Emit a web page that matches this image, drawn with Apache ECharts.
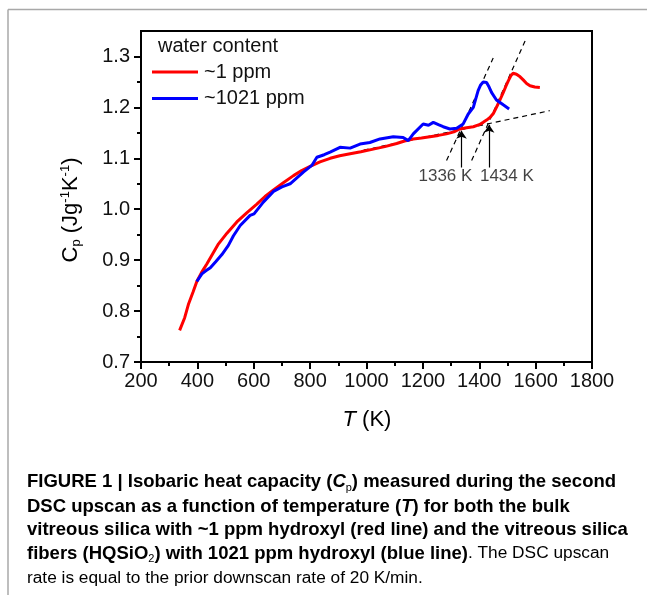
<!DOCTYPE html>
<html><head><meta charset="utf-8">
<script src="https://cdn.jsdelivr.net/npm/echarts@6/dist/echarts.min.js"></script>
<style>html,body{margin:0;padding:0;background:#fff}#c{width:647px;height:595px}</style>
</head><body><div id="c"></div>
<script>
// ---- data ----
const redT  = [337, 355, 369, 385, 398, 415, 434, 455, 475, 505, 540, 575, 611, 640, 670, 705, 741, 770, 800, 835, 871, 905, 942, 980, 1024, 1065, 1107, 1135, 1166, 1195, 1225, 1255, 1284, 1310, 1331, 1355, 1379, 1400, 1414, 1426, 1438, 1450, 1461, 1473, 1485, 1495, 1503, 1512, 1520, 1532, 1545, 1556, 1568, 1580, 1597, 1615];
const redCp = [0.762, 0.787, 0.8145, 0.838, 0.858, 0.876, 0.893, 0.913, 0.932, 0.953, 0.975, 0.993, 1.010, 1.025, 1.038, 1.052, 1.066, 1.076, 1.084, 1.093, 1.100, 1.105, 1.109, 1.113, 1.118, 1.123, 1.129, 1.134, 1.138, 1.140, 1.1425, 1.145, 1.148, 1.152, 1.1576, 1.160, 1.162, 1.166, 1.1706, 1.175, 1.180, 1.188, 1.200, 1.214, 1.229, 1.242, 1.252, 1.262, 1.267, 1.265, 1.260, 1.254, 1.247, 1.2425, 1.240, 1.239];
const blueT  = [398, 416, 430, 446, 465, 487, 510, 528, 552, 587, 601, 634, 670, 700, 729, 776, 806, 824, 850, 871, 906, 942, 977, 1012, 1048, 1095, 1130, 1148, 1166, 1201, 1220, 1237, 1255, 1272, 1296, 1320, 1343, 1361, 1379, 1396, 1405, 1414, 1426, 1435, 1444, 1461, 1485, 1506];
const blueCp = [0.858, 0.873, 0.879, 0.885, 0.897, 0.911, 0.929, 0.948, 0.968, 0.988, 0.991, 1.014, 1.035, 1.044, 1.050, 1.073, 1.086, 1.102, 1.107, 1.112, 1.1216, 1.120, 1.128, 1.131, 1.138, 1.1425, 1.141, 1.1347, 1.148, 1.1675, 1.165, 1.1706, 1.166, 1.162, 1.1576, 1.159, 1.1675, 1.187, 1.200, 1.233, 1.244, 1.250, 1.249, 1.240, 1.229, 1.2145, 1.205, 1.197];
const baseT = [990, 1650],     baseCp = [1.116, 1.1935];
const tanBlueT = [1284, 1449.5], tanBlueCp = [1.0955, 1.297];
const tanRedT = [1373, 1565.5],  tanRedCp = [1.0955, 1.334];
const onsetT = [1337, 1435];
const arrowTipCp = [1.154, 1.166];
const arrowBaseCp = 1.082;
const onsetLabels = ['1336 K', '1434 K'];
const labelT = [1280, 1498];
const labelCp = 1.064;
const seriesNames = ['~1 ppm', '~1021 ppm'];
const legendTitle = 'water content';
const yMajor = [0.7, 0.8, 0.9, 1.0, 1.1, 1.2, 1.3];
const yMinor = [0.75, 0.85, 0.95, 1.05, 1.15, 1.25];
const xMin = 200, xMax = 1800, xStep = 200;
const yMin = 0.7, yMax = 1.35;

const zip = (a, b) => a.map((v, i) => [v, b[i]]);
const FONT = '"Liberation Sans", Arial, Helvetica, sans-serif';

const chart = echarts.init(document.getElementById('c'), null, {renderer: 'canvas'});

const dashed = {color: '#000', width: 1.2, type: [5, 4]};

const capB = {fontFamily: FONT, fontWeight: 'bold', fontSize: 18.5, color: '#222', lineHeight: 22};
const capBI = Object.assign({}, capB, {fontStyle: 'italic'});
const capBS = Object.assign({}, capB, {fontSize: 11, lineHeight: 12, verticalAlign: 'bottom', fontWeight: 'normal'});
const capR = {fontFamily: FONT, fontSize: 17.3, color: '#444', lineHeight: 22};
const capRich = {b: capB, bi: capBI, bs: capBS, r: capR};
const capLines = [
  '{b|FIGURE 1 | Isobaric heat capacity (}{bi|C}{bs|p}{b|) measured during the second}',
  '{b|DSC upscan as a function of temperature (}{bi|T}{b|) for both the bulk}',
  '{b|vitreous silica with ~1 ppm hydroxyl (red line) and the vitreous silica}',
  '{b|fibers (HQSiO}{bs|2}{b|) with 1021 ppm hydroxyl (blue line)}{r|. The DSC upscan}',
  '{r|rate is equal to the prior downscan rate of 20 K/min.}'
];
const capY = [482, 506.5, 530, 553.5, 578];

const graphics = [
  {type: 'line', shape: {x1: 8, y1: 9.5, x2: 647, y2: 9.5}, style: {stroke: '#a8a8a8', lineWidth: 1.5}},
  {type: 'line', shape: {x1: 8, y1: 9.5, x2: 8, y2: 595}, style: {stroke: '#a8a8a8', lineWidth: 1.5}},
  {type: 'text', x: 158, y: 46, style: {text: legendTitle, font: '20px ' + FONT, fill: '#111', verticalAlign: 'middle'}},
  {type: 'text', x: 367, y: 420, style: {
    text: '{i|T}{n| (K)}', align: 'center', verticalAlign: 'middle',
    rich: {i: {fontFamily: FONT, fontSize: 22, fontStyle: 'italic', color: '#111'}, n: {fontFamily: FONT, fontSize: 22, color: '#111'}}}},
  {type: 'text', x: 71, y: 210, rotation: Math.PI / 2, style: {
    text: '{n|C}{sub|p}{n| (Jg}{sup|-1}{n|K}{sup|-1}{n|)}', align: 'center', verticalAlign: 'middle',
    rich: {
      n: {fontFamily: FONT, fontSize: 22, color: '#111', lineHeight: 24},
      sub: {fontFamily: FONT, fontSize: 13, color: '#111', lineHeight: 13, verticalAlign: 'bottom'},
      sup: {fontFamily: FONT, fontSize: 13, color: '#111', lineHeight: 13, verticalAlign: 'top'}
    }}}
];
capLines.forEach((t, i) => graphics.push({type: 'text', x: 27, y: capY[i], style: {text: t, rich: capRich, verticalAlign: 'middle'}}));

const option = {
  animation: false,
  backgroundColor: '#fff',
  grid: {left: 141, top: 31, width: 451, height: 331, show: true, borderColor: '#000', borderWidth: 2, backgroundColor: 'transparent'},
  legend: {
    data: seriesNames, orient: 'vertical', left: 152, top: 62, padding: 0,
    icon: 'rect', itemWidth: 46, itemHeight: 3, itemGap: 6.6,
    textStyle: {fontFamily: FONT, fontSize: 20, color: '#111', lineHeight: 20, padding: [0, 0, 0, 1]}
  },
  xAxis: {
    type: 'value', min: xMin, max: xMax, interval: xStep,
    axisLine: {lineStyle: {color: '#000', width: 2}},
    axisTick: {inside: false, length: 7, lineStyle: {color: '#000', width: 2}},
    minorTick: {show: true, splitNumber: 2, length: 4, lineStyle: {color: '#000', width: 2}},
    axisLabel: {fontFamily: FONT, fontSize: 20, color: '#111', margin: 9, formatter: v => String(v)},
    splitLine: {show: false}, minorSplitLine: {show: false}
  },
  yAxis: [
    {
      type: 'value', min: yMin, max: yMax,
      axisLine: {show: true, lineStyle: {color: '#000', width: 2}},
      axisTick: {show: true, inside: false, length: 7, customValues: yMajor, lineStyle: {color: '#000', width: 2}},
      axisLabel: {fontFamily: FONT, fontSize: 20, color: '#111', margin: 11, customValues: yMajor, formatter: v => v.toFixed(1)},
      splitLine: {show: false}
    },
    {
      type: 'value', min: yMin, max: yMax, position: 'left',
      axisLine: {show: false},
      axisTick: {show: true, inside: false, length: 4, customValues: yMinor, lineStyle: {color: '#000', width: 2}},
      axisLabel: {show: false},
      splitLine: {show: false}
    }
  ],
  series: [
    {name: 'base', type: 'line', data: zip(baseT, baseCp), showSymbol: false, symbol: 'none', lineStyle: dashed, z: 1, silent: true},
    {name: 'tanBlue', type: 'line', data: zip(tanBlueT, tanBlueCp), showSymbol: false, symbol: 'none', lineStyle: dashed, z: 1, silent: true},
    {name: 'tanRed', type: 'line', data: zip(tanRedT, tanRedCp), showSymbol: false, symbol: 'none', lineStyle: dashed, z: 1, silent: true},
    {name: seriesNames[0], type: 'line', data: zip(redT, redCp), showSymbol: false, symbol: 'none', color: '#ff0000', lineStyle: {color: '#ff0000', width: 3}, z: 2},
    {name: seriesNames[1], type: 'line', data: zip(blueT, blueCp), showSymbol: false, symbol: 'none', color: '#0000ff', lineStyle: {color: '#0000ff', width: 3}, z: 2},
    {name: 'arrows', type: 'lines', coordinateSystem: 'cartesian2d', symbol: ['none', 'arrow'], symbolSize: 8, z: 5,
      lineStyle: {color: '#000', width: 1.2, opacity: 1},
      data: onsetT.map((t, i) => ({coords: [[t, arrowBaseCp], [t, arrowTipCp[i]]]}))},
    {name: 'labels', type: 'scatter', symbolSize: 0, z: 5, silent: true,
      label: {show: true, position: 'inside', formatter: p => p.name, fontFamily: FONT, fontSize: 17, color: '#111'},
      data: onsetLabels.map((n, i) => ({name: n, value: [labelT[i], labelCp]}))}
  ],
  graphic: graphics
};
chart.setOption(option);
</script></body></html>
